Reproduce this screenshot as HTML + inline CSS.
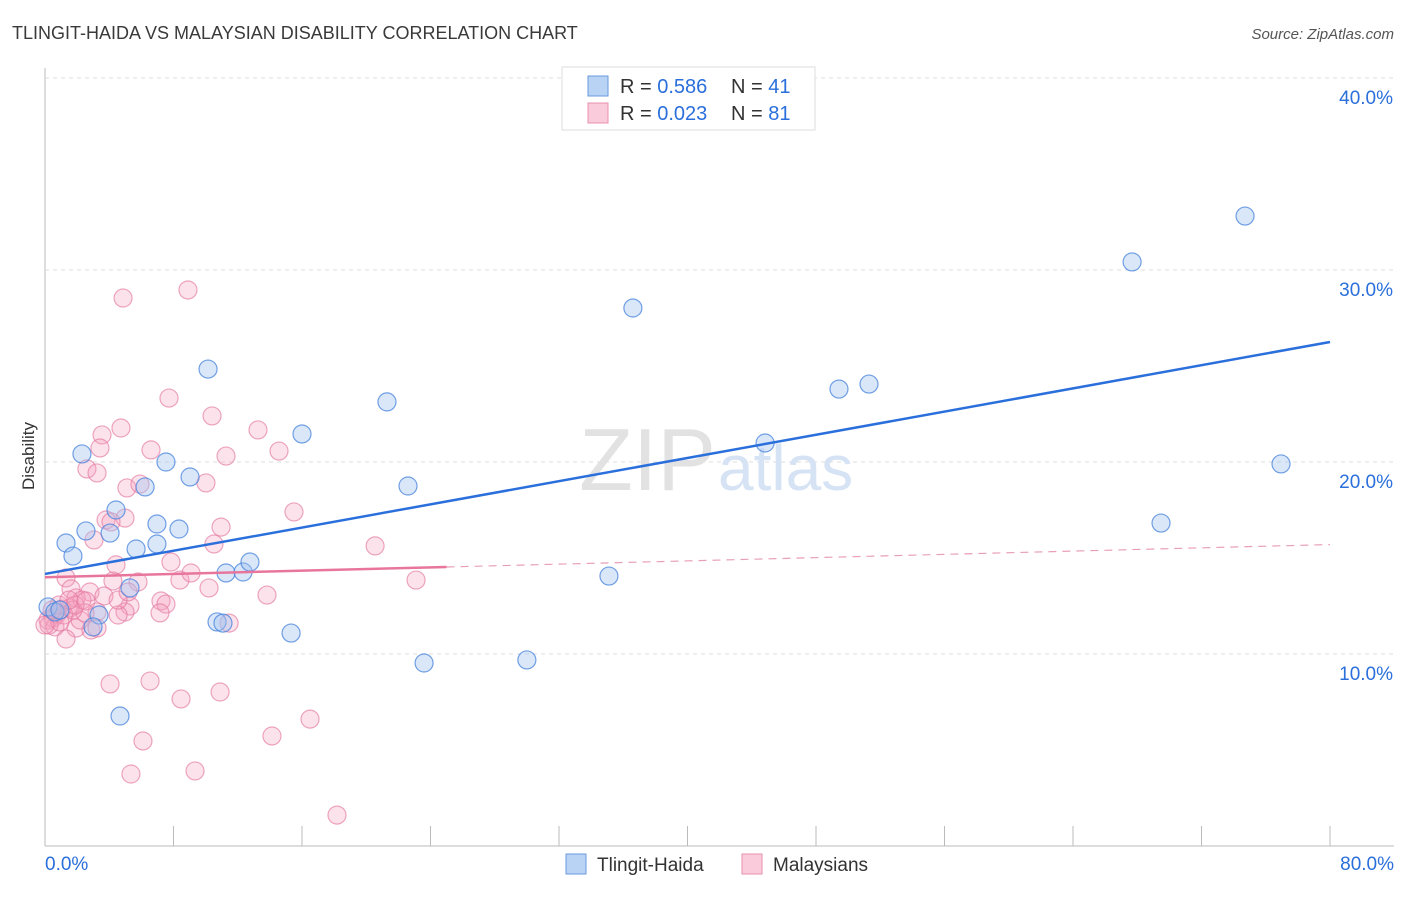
<!DOCTYPE html>
<html><head><meta charset="utf-8"><style>
body{margin:0;background:#fff;font-family:"Liberation Sans",sans-serif}
svg text{font-family:"Liberation Sans",sans-serif}
</style></head><body>
<svg width="1406" height="892" viewBox="0 0 1406 892">
<text x="12" y="39" font-size="18" fill="#3a3a3a">TLINGIT-HAIDA VS MALAYSIAN DISABILITY CORRELATION CHART</text>
<text x="1394" y="39" font-size="15" fill="#555" font-style="italic" text-anchor="end">Source: ZipAtlas.com</text>
<text x="34" y="456" font-size="17" fill="#333" transform="rotate(-90 34 456)" text-anchor="middle">Disability</text>
<g id="grid"></g>
<text x="716" y="490" font-size="88" fill="#e2e2e2" text-anchor="end" font-family="Liberation Serif">ZIP</text>
<text x="718" y="490" font-size="64" fill="#d6e3f5">atlas</text>
<g id="marks"></g>
<g>
<rect x="562" y="67" width="253" height="63" fill="#fff" stroke="#ddd"/>
<rect x="588" y="76" width="20" height="20" fill="#b9d3f5" stroke="#6a9ae0"/>
<text x="620" y="93" font-size="20" fill="#333">R = <tspan fill="#2a6fdb">0.586</tspan></text>
<text x="731" y="93" font-size="20" fill="#333">N = <tspan fill="#2a6fdb">41</tspan></text>
<rect x="588" y="103" width="20" height="20" fill="#f9cbdb" stroke="#e890ae"/>
<text x="620" y="120" font-size="20" fill="#333">R = <tspan fill="#2a6fdb">0.023</tspan></text>
<text x="731" y="120" font-size="20" fill="#333">N = <tspan fill="#2a6fdb">81</tspan></text>
</g>
<g>
<rect x="566" y="854" width="20" height="20" fill="#b9d3f5" stroke="#6a9ae0"/>
<text x="597" y="871" font-size="19" fill="#333">Tlingit-Haida</text>
<rect x="742" y="854" width="20" height="20" fill="#f9cbdb" stroke="#e890ae"/>
<text x="773" y="871" font-size="19" fill="#333">Malaysians</text>
</g>
</svg>
<script>
const yTicks=[10,20,30,40];
const yTickLabels=["10.0%","20.0%","30.0%","40.0%"];
const xTickCount=10;
const xEndLabels=["0.0%","80.0%"];
const blueX=[10.15,2.30,7.53,6.23,9.03,4.42,1.31,2.55,1.74,6.97,8.34,6.97,5.67,4.05,11.27,12.33,12.76,5.29,3.36,2.99,10.71,11.08,15.32,4.67,16.0,21.29,22.6,23.6,30.0,35.11,36.6,44.83,49.43,51.3,67.68,74.71,76.95,69.48,0.19,0.62,0.93];
const blueY=[24.84,20.42,20.0,18.7,19.22,17.5,15.78,16.41,15.1,16.77,16.51,15.73,15.47,16.3,14.22,14.27,14.79,13.44,12.03,11.41,11.67,11.61,11.09,6.77,21.46,23.13,18.75,9.53,9.69,14.06,28.02,20.99,23.8,24.06,30.42,32.81,19.9,16.82,12.45,12.19,12.29];
const pinkX=[4.86,8.9,7.72,10.4,4.73,3.55,13.26,3.42,6.6,11.27,14.57,2.61,3.24,10.02,5.1,5.91,15.5,3.8,4.98,4.11,10.96,3.05,10.52,20.55,7.84,4.42,1.31,8.4,9.09,5.79,4.23,23.1,1.62,2.8,10.21,3.67,13.82,1.93,2.3,7.22,7.53,5.29,1.56,4.98,4.55,7.16,3.24,1.06,0.75,0.5,0.19,0.62,0.25,1.93,2.86,3.24,1.31,11.46,4.05,6.54,10.9,8.47,16.5,6.1,14.13,5.35,9.34,18.18,0.87,1.18,2.18,2.49,1.74,0.93,0.44,1.87,1.49,4.55,5.17,0,2.55];
const pinkY=[28.54,28.96,23.33,22.4,21.77,21.41,21.67,20.73,20.63,20.31,20.57,19.64,19.43,18.91,18.65,18.85,17.4,16.98,17.08,16.88,16.61,15.94,15.73,15.63,14.79,14.64,13.96,13.85,14.22,13.75,13.8,13.85,13.39,13.23,13.44,13.02,13.07,12.92,12.81,12.76,12.6,12.5,12.4,12.19,12.03,12.14,12.19,12.34,12.08,11.88,11.77,11.41,11.51,11.35,11.25,11.35,10.78,11.61,8.44,8.59,8.02,7.66,6.61,5.47,5.73,3.75,3.91,1.61,12.55,12.03,11.77,12.14,12.29,11.67,12.29,12.55,12.81,12.81,13.23,11.51,12.76];
const blueTrend=[14.17,26.25];
const pinkTrend=[14.0,15.7];
const pinkSolidEnd=25;
const X0=45,X1=1330,Y0=846,PPU=19.2;
const sx=v=>X0+(X1-X0)*v/80, sy=v=>Y0-v*PPU;
const NS="http://www.w3.org/2000/svg";
function mk(tag,attrs,parent){const e=document.createElementNS(NS,tag);for(const k in attrs)e.setAttribute(k,attrs[k]);parent.appendChild(e);return e;}
const g=document.getElementById('grid'),m=document.getElementById('marks');
let ax=mk('line',{x1:X0,y1:68,x2:X0,y2:Y0,stroke:'#bbb'},g);


let bx=mk('line',{x1:X0,y1:Y0,x2:1394,y2:Y0,stroke:'#bbb'},g);


yTicks.forEach((t,i)=>{
 const l=mk('line',{x1:X0,x2:1394,y1:sy(t),y2:sy(t),stroke:'#ddd','stroke-dasharray':'4,4'},g);
 
 
 const tx=mk('text',{x:1393,y:sy(t)+26,'font-size':19,fill:'#2a6fdb','text-anchor':'end'},g);
 tx.textContent=yTickLabels[i];
 
 
});
for(let i=0;i<=xTickCount;i++){
 const x=sx(80*i/xTickCount);
 const l=mk('line',{x1:x,x2:x,y1:826,y2:Y0,stroke:'#bbb'},g);
 
 
}
[[0,'start',45],[80,'end',1394]].forEach((a,i)=>{
 const tx=mk('text',{x:a[2],y:870,'font-size':19,fill:'#2a6fdb','text-anchor':a[1]},g);
 tx.textContent=xEndLabels[i];
 
 
});
pinkX.forEach((v,i)=>{
 const c=mk('circle',{cx:sx(v),cy:sy(pinkY[i]),r:9,fill:'rgba(244,160,190,0.3)',stroke:'rgba(228,120,160,0.65)','stroke-width':1.2},m);
 
 
});
blueX.forEach((v,i)=>{
 const c=mk('circle',{cx:sx(v),cy:sy(blueY[i]),r:9,fill:'rgba(160,195,240,0.4)',stroke:'rgba(70,130,220,0.75)','stroke-width':1.2},m);
 
 
});
const pv=x=>pinkTrend[0]+(pinkTrend[1]-pinkTrend[0])*x/80;
let pl=mk('line',{x1:sx(0),y1:sy(pinkTrend[0]),x2:sx(pinkSolidEnd),y2:sy(pv(pinkSolidEnd)),stroke:'#e8769c','stroke-width':2.5},m);


let pd=mk('line',{x1:sx(pinkSolidEnd),y1:sy(pv(pinkSolidEnd)),x2:sx(80),y2:sy(pinkTrend[1]),stroke:'#e8a0b8','stroke-width':1.2,'stroke-dasharray':'8,6'},m);


let bl=mk('line',{x1:sx(0),y1:sy(blueTrend[0]),x2:sx(80),y2:sy(blueTrend[1]),stroke:'#2a6fdb','stroke-width':2.5},m);


</script>
</body></html>
